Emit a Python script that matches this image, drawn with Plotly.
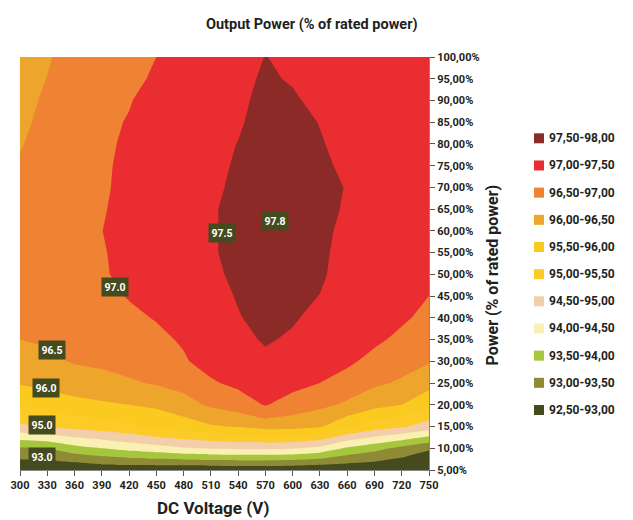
import plotly.graph_objects as go

# ---------------- data ----------------
voltages = [300, 330, 360, 390, 420, 450, 480, 510, 540, 570, 600, 630, 660, 690, 720, 750]
power_pct = [5, 10, 15, 20, 25, 30, 35, 40, 45, 50, 55, 60, 65, 70, 75, 80, 85, 90, 95, 100]

# efficiency (%) per DC voltage column, listed from 5 % to 100 % of rated power
eff_300 = [92.57, 93.43, 94.91, 95.53, 96.04, 96.27, 96.50, 96.62, 96.70, 96.75, 96.78, 96.78, 96.74, 96.67, 96.56, 96.46, 96.36, 96.30, 96.26, 96.22]
eff_330 = [92.57, 93.50, 95.05, 95.71, 96.14, 96.39, 96.56, 96.68, 96.77, 96.83, 96.86, 96.87, 96.85, 96.80, 96.76, 96.72, 96.68, 96.60, 96.51, 96.45]
eff_360 = [92.55, 93.83, 95.16, 95.85, 96.24, 96.54, 96.68, 96.78, 96.86, 96.91, 96.94, 96.95, 96.94, 96.92, 96.88, 96.86, 96.84, 96.80, 96.76, 96.72]
eff_390 = [92.66, 94.00, 95.26, 95.93, 96.32, 96.60, 96.74, 96.84, 96.91, 96.95, 96.975, 96.995, 96.97, 96.96, 96.95, 96.94, 96.93, 96.88, 96.85, 96.82]
eff_420 = [92.66, 94.17, 95.40, 96.00, 96.44, 96.68, 96.82, 96.93, 97.02, 97.12, 97.10, 97.15, 97.12, 97.08, 97.075, 97.05, 97.02, 96.98, 96.93, 96.91]
eff_450 = [92.65, 94.30, 95.65, 96.08, 96.55, 96.76, 96.92, 97.02, 97.15, 97.22, 97.24, 97.27, 97.25, 97.22, 97.21, 97.19, 97.16, 97.13, 97.04, 97.00]
eff_480 = [92.59, 94.47, 95.75, 96.31, 96.67, 96.96, 97.04, 97.18, 97.27, 97.32, 97.34, 97.36, 97.35, 97.32, 97.30, 97.30, 97.27, 97.24, 97.18, 97.15]
eff_510 = [92.62, 94.54, 95.95, 96.58, 96.95, 97.15, 97.22, 97.32, 97.38, 97.40, 97.44, 97.44, 97.44, 97.38, 97.36, 97.38, 97.37, 97.33, 97.29, 97.28]
eff_540 = [92.65, 94.58, 96.04, 96.76, 97.10, 97.30, 97.42, 97.48, 97.524, 97.60, 97.66, 97.66, 97.66, 97.62, 97.56, 97.51, 97.445, 97.41, 97.38, 97.32]
eff_570 = [92.65, 94.58, 96.20, 97.03, 97.25, 97.44, 97.53, 97.60, 97.66, 97.72, 97.76, 97.78, 97.80, 97.80, 97.75, 97.72, 97.68, 97.62, 97.56, 97.51]
eff_600 = [92.62, 94.54, 96.18, 96.80, 97.15, 97.32, 97.46, 97.53, 97.58, 97.66, 97.72, 97.76, 97.80, 97.80, 97.74, 97.68, 97.62, 97.56, 97.46, 97.40]
eff_630 = [92.57, 94.36, 96.05, 96.62, 97.00, 97.20, 97.34, 97.42, 97.494, 97.55, 97.58, 97.60, 97.65, 97.66, 97.60, 97.53, 97.487, 97.38, 97.36, 97.30]
eff_660 = [92.60, 93.92, 95.60, 96.42, 96.78, 97.10, 97.20, 97.25, 97.30, 97.36, 97.36, 97.40, 97.445, 97.475, 97.40, 97.38, 97.35, 97.30, 97.29, 97.25]
eff_690 = [92.60, 93.66, 95.26, 96.16, 96.58, 96.84, 97.10, 97.16, 97.22, 97.26, 97.30, 97.33, 97.35, 97.35, 97.32, 97.30, 97.28, 97.25, 97.23, 97.20]
eff_720 = [92.52, 93.36, 95.07, 96.00, 96.44, 96.67, 96.88, 97.08, 97.14, 97.20, 97.24, 97.26, 97.27, 97.27, 97.25, 97.23, 97.22, 97.19, 97.18, 97.15]
eff_750 = [92.55, 93.05, 94.77, 95.61, 96.19, 96.54, 96.70, 96.86, 97.00, 97.10, 97.18, 97.20, 97.20, 97.20, 97.18, 97.17, 97.16, 97.14, 97.13, 97.10]

y_tick_labels = ["5,00%", "10,00%", "15,00%", "20,00%", "25,00%", "30,00%", "35,00%", "40,00%",
                 "45,00%", "50,00%", "55,00%", "60,00%", "65,00%", "70,00%", "75,00%", "80,00%",
                 "85,00%", "90,00%", "95,00%", "100,00%"]
x_tick_labels = [str(v) for v in voltages]

# legend bands, highest first
band_labels = ["97,50-98,00", "97,00-97,50", "96,50-97,00", "96,00-96,50", "95,50-96,00",
               "95,00-95,50", "94,50-95,00", "94,00-94,50", "93,50-94,00", "93,00-93,50", "92,50-93,00"]
band_colors = ["#8B2A27", "#E92D31", "#EF8233", "#EEA52C", "#FBCA21",
               "#FCCB27", "#F2CFAA", "#FAF0B1", "#A6C63D", "#8E8A36", "#464B1F"]

# contour value labels
label_texts = ["97.8", "97.5", "97.0", "96.5", "96.0", "95.0", "93.0"]
label_volt = [581, 522, 404, 335, 329, 324, 324]
label_pow = [62.2, 59.6, 47.1, 32.7, 23.8, 15.4, 8.0]

# ---------------- figure ----------------
FONT = "Roboto, 'Liberation Sans', sans-serif"
TXT = "#231F20"

columns = [eff_300, eff_330, eff_360, eff_390, eff_420, eff_450, eff_480, eff_510,
           eff_540, eff_570, eff_600, eff_630, eff_660, eff_690, eff_720, eff_750]
z = [[col[i] for col in columns] for i in range(len(power_pct))]

colors_low_high = band_colors[::-1]
n = len(colors_low_high)
colorscale = [[i / (n - 1), c] for i, c in enumerate(colors_low_high)]

fig = go.Figure()
fig.add_trace(go.Contour(
    x=voltages, y=power_pct, z=z,
    autocontour=False,
    contours=dict(start=93.0, end=97.5, size=0.5, coloring="fill", showlines=False),
    line=dict(width=0, smoothing=0),
    colorscale=colorscale, showscale=False, hoverinfo="skip",
))

# plot area in page pixels: x 20..429, y 57..470 ; page body has an 8px margin
OFF = 8
L, R, T, B = 20, 429, 57, 470
W, H = 633 - OFF, 520 - OFF


def px(xp):
    return (xp - L) / (R - L)


def py(yp):
    return (B - yp) / (B - T)


annotations = []
shapes = []
for t, v, p in zip(label_texts, label_volt, label_pow):
    annotations.append(dict(x=v, y=p, xref="x", yref="y", text=t, showarrow=False,
                            xanchor="center", yanchor="middle",
                            font=dict(family=FONT, size=10.5, color="white", weight="bold"),
                            bgcolor="#464B1F", borderpad=2.5))

for i, (lab, col) in enumerate(zip(band_labels, band_colors)):
    cy = 138.3 + 27.17 * i
    shapes.append(dict(type="rect", xref="paper", yref="paper",
                       x0=px(534), x1=px(544), y0=py(cy + 5), y1=py(cy - 5),
                       fillcolor=col, line=dict(width=0)))
    annotations.append(dict(x=px(547), y=py(cy), xref="paper", yref="paper", text=lab,
                            showarrow=False, xanchor="left", yanchor="middle",
                            font=dict(family=FONT, size=12, color=TXT, weight="bold")))

annotations.append(dict(x=px(312), y=py(24), xref="paper", yref="paper",
                        text="Output Power (% of rated power)", showarrow=False,
                        xanchor="center", yanchor="middle",
                        font=dict(family=FONT, size=14.5, color=TXT, weight="bold")))
annotations.append(dict(x=px(213), y=py(508), xref="paper", yref="paper",
                        text="DC Voltage (V)", showarrow=False,
                        xanchor="center", yanchor="middle",
                        font=dict(family=FONT, size=17, color=TXT, weight="bold")))
annotations.append(dict(x=px(491.5), y=py(275), xref="paper", yref="paper",
                        text="Power (% of rated power)", showarrow=False, textangle=-90,
                        xanchor="center", yanchor="middle",
                        font=dict(family=FONT, size=16, color=TXT, weight="bold")))

fig.update_layout(
    width=W, height=H,
    margin=dict(l=L - OFF, r=(W + OFF) - R, t=T - OFF, b=(H + OFF) - B, pad=0),
    paper_bgcolor="white", plot_bgcolor="white",
    showlegend=False,
    annotations=annotations, shapes=shapes,
    xaxis=dict(range=[300, 750], tickvals=voltages, ticktext=x_tick_labels,
               ticks="outside", ticklen=5, tickcolor="#555555", showline=True,
               linecolor="#888888", linewidth=1, showgrid=False, zeroline=False,
               automargin=False,
               tickfont=dict(family=FONT, size=11, color=TXT, weight="bold")),
    yaxis=dict(range=[5, 100], side="right", tickvals=power_pct, ticktext=y_tick_labels,
               ticks="outside", ticklen=5, tickcolor="#555555", showline=True,
               linecolor="#888888", linewidth=1, showgrid=False, zeroline=False,
               automargin=False,
               tickfont=dict(family=FONT, size=11, color=TXT, weight="bold")),
)

fig.write_html("out.html")
